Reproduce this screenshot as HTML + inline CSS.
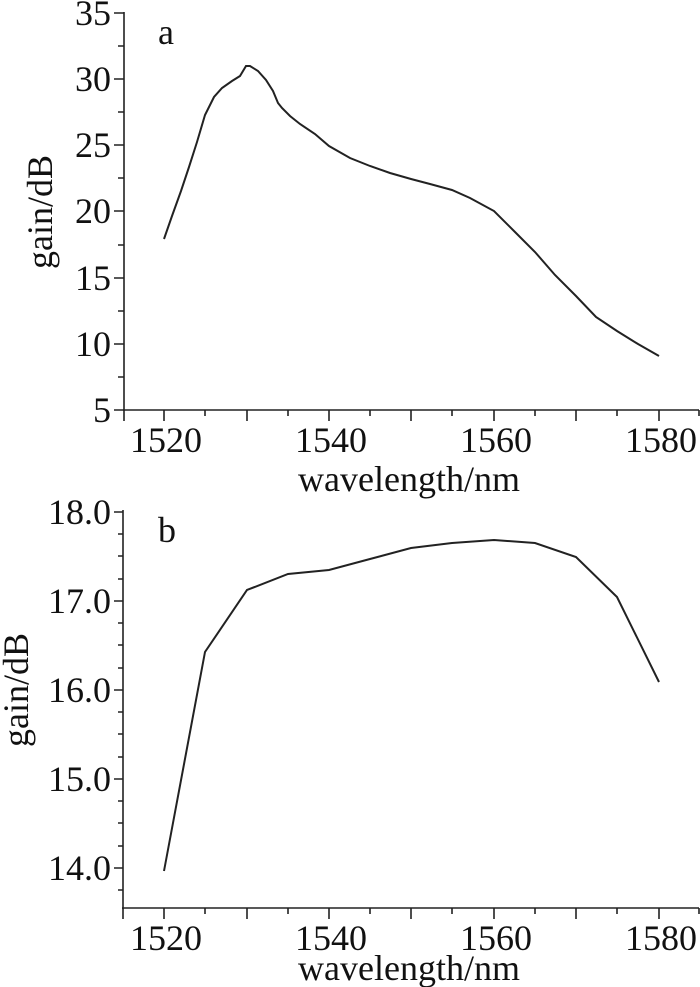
<!DOCTYPE html>
<html><head><style>body{margin:0;background:#fff}svg{display:block}text{font-family:"Liberation Serif",serif;fill:#111}</style></head>
<body>
<svg width="700" height="987" viewBox="0 0 700 987" xmlns="http://www.w3.org/2000/svg">
<g stroke="#222" stroke-width="1.6" fill="none">
<line x1="124" y1="12" x2="124" y2="411"/>
<line x1="123" y1="410" x2="699" y2="410"/>
<path d="M114 13h10M118 46h6M114 79h10M118 112h6M114 145h10M118 178h6M114 211h10M118 245h6M114 278h10M118 311h6M114 344h10M118 377h6M114 410h10"/>
<path d="M124 410v11M164 410v11M205 410v6M247 410v11M288 410v6M329 410v11M370 410v6M411 410v11M452 410v6M494 410v11M535 410v6M576 410v11M617 410v6M659 410v11M699 410v6"/>
<path stroke-width="2" d="M164 239 L172 216 L181 191 L189 167 L197 142 L205 115 L214 97 L222 88 L232 81 L240 76 L246 66 L250 66 L258 71 L266 80 L273 91 L278 103 L282 108 L290 116 L300 124 L315 134 L329 146 L350 158 L370 166 L390 173 L411 179 L430 184 L452 190 L470 198 L494 211 L515 232 L535 252 L555 275 L576 296 L596 317 L617 331 L638 344 L659 356"/>
<line x1="123" y1="510" x2="123" y2="909"/>
<line x1="122" y1="908" x2="699" y2="908"/>
<path d="M114 512h9M118 534h5M118 556h5M118 579h5M114 601h9M118 623h5M118 645h5M118 668h5M114 690h9M118 712h5M118 734h5M118 757h5M114 779h9M118 801h5M118 823h5M118 846h5M114 868h9M118 890h5"/>
<path d="M123 908v11M164 908v11M205 908v6M247 908v11M288 908v6M329 908v11M370 908v6M411 908v11M452 908v6M494 908v11M535 908v6M576 908v11M617 908v6M659 908v11M699 908v6"/>
<path stroke-width="2" d="M164 871 L205 652 L247 590 L288 574 L329 570 L370 559 L411 548 L452 543 L494 540 L535 543 L576 557 L617 597 L659 682"/>
</g>
<g font-size="36" text-anchor="end">
<text x="111" y="25">35</text><text x="111" y="91">30</text><text x="111" y="157">25</text><text x="111" y="223">20</text><text x="111" y="290">15</text><text x="111" y="356">10</text><text x="111" y="422">5</text>
<text x="111" y="524">18.0</text><text x="111" y="613">17.0</text><text x="111" y="702">16.0</text><text x="111" y="791">15.0</text><text x="111" y="880">14.0</text>
</g>
<g font-size="36" text-anchor="middle">
<text x="166" y="452">1520</text><text x="331" y="452">1540</text><text x="496" y="452">1560</text><text x="661" y="452">1580</text>
<text x="166" y="950">1520</text><text x="331" y="950">1540</text><text x="496" y="950">1560</text><text x="661" y="950">1580</text>
<text x="409" y="491">wavelength/nm</text>
<text x="409" y="980">wavelength/nm</text>
</g>
<text x="158" y="44" font-size="36">a</text>
<text x="158" y="542" font-size="36">b</text>
<text transform="translate(52 212) rotate(-90)" font-size="36" text-anchor="middle">gain/dB</text>
<text transform="translate(28 690) rotate(-90)" font-size="36" text-anchor="middle">gain/dB</text>
</svg>
</body></html>
